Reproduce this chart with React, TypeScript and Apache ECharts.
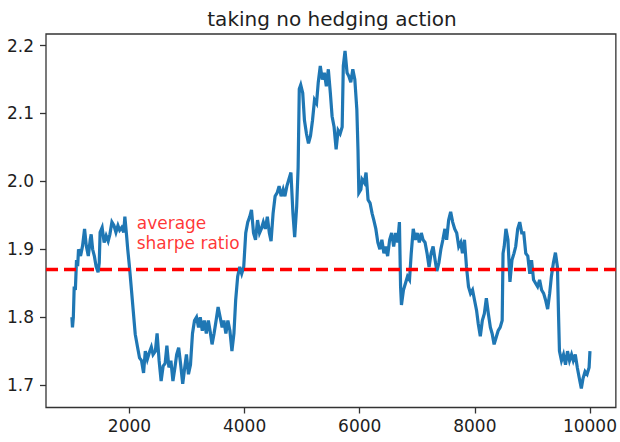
import React, { useEffect, useRef } from "react";
import * as echarts from "echarts";

const TITLE = "taking no hedging action";
const ANNOTATION = "average\nsharpe ratio";
const AVERAGE_SHARPE = 1.871;
const ANNOT_X = 2100;
const ANNOT_Y = 1.9;
const X_TICKS = [2000, 4000, 6000, 8000, 10000];
const Y_TICKS = [1.7, 1.8, 1.9, 2.0, 2.1, 2.2];

const steps = [
  1000, 1010, 1025, 1040, 1060, 1080, 1100, 1115, 1150, 1185, 1220, 1250, 1285, 1320, 1335, 1360, 1390, 1420, 1455, 1475,
  1490, 1525, 1560, 1595, 1630, 1660, 1695, 1730, 1765, 1800, 1830, 1865, 1900, 1920, 1950, 1970, 2000, 2035, 2070, 2100,
  2140, 2175, 2210, 2245, 2275, 2310, 2345, 2380, 2410, 2450, 2480, 2515, 2550, 2585, 2620, 2650, 2685, 2720, 2755, 2790,
  2820, 2855, 2890, 2925, 2960, 2990, 3025, 3060, 3095, 3130, 3165, 3200, 3230, 3265, 3300, 3335, 3370, 3400, 3435, 3470,
  3505, 3540, 3575, 3610, 3640, 3675, 3710, 3745, 3780, 3815, 3845, 3880, 3915, 3950, 3985, 4020, 4055, 4090, 4120, 4155,
  4190, 4225, 4260, 4290, 4325, 4360, 4395, 4430, 4460, 4495, 4530, 4565, 4600, 4635, 4670, 4700, 4735, 4770, 4805, 4840,
  4870, 4905, 4930, 4950, 4975, 5010, 5040, 5075, 5110, 5145, 5180, 5215, 5250, 5280, 5315, 5350, 5385, 5420, 5455, 5490,
  5520, 5555, 5590, 5625, 5660, 5695, 5715, 5745, 5780, 5810, 5845, 5880, 5915, 5950, 5970, 5985, 6020, 6040, 6080, 6110,
  6145, 6180, 6215, 6245, 6280, 6315, 6350, 6385, 6420, 6450, 6485, 6520, 6555, 6590, 6625, 6660, 6690, 6710, 6725, 6760,
  6795, 6830, 6865, 6895, 6930, 6965, 7000, 7035, 7070, 7100, 7135, 7170, 7205, 7240, 7275, 7310, 7340, 7375, 7410, 7445,
  7480, 7510, 7545, 7580, 7615, 7650, 7685, 7720, 7755, 7785, 7820, 7855, 7890, 7925, 7960, 7995, 8030, 8060, 8095, 8130,
  8165, 8200, 8235, 8270, 8300, 8335, 8370, 8405, 8440, 8475, 8490, 8510, 8540, 8575, 8610, 8645, 8680, 8710, 8745, 8780,
  8815, 8850, 8885, 8920, 8955, 8985, 9020, 9055, 9090, 9125, 9160, 9195, 9230, 9265, 9300, 9330, 9365, 9400, 9435, 9455,
  9470, 9505, 9540, 9575, 9610, 9645, 9680, 9710, 9745, 9780, 9815, 9850, 9880, 9915, 9950, 9985, 10000,
];

const sharpeRatio = [
  1.8, 1.785, 1.8, 1.845, 1.84, 1.884, 1.875, 1.9, 1.89, 1.905, 1.93, 1.905, 1.89, 1.915, 1.922, 1.9, 1.89, 1.875, 1.866, 1.88,
  1.925, 1.932, 1.91, 1.92, 1.912, 1.922, 1.94, 1.935, 1.925, 1.935, 1.928, 1.932, 1.925, 1.948, 1.92, 1.9, 1.874, 1.84, 1.805, 1.775,
  1.756, 1.74, 1.736, 1.718, 1.75, 1.738, 1.748, 1.756, 1.745, 1.75, 1.776, 1.736, 1.706, 1.728, 1.732, 1.758, 1.726, 1.736, 1.706, 1.726,
  1.745, 1.755, 1.73, 1.702, 1.726, 1.745, 1.716, 1.73, 1.776, 1.795, 1.8, 1.785, 1.8, 1.78, 1.795, 1.776, 1.795, 1.78, 1.76, 1.776,
  1.795, 1.815, 1.8, 1.785, 1.795, 1.776, 1.795, 1.78, 1.75, 1.776, 1.825, 1.86, 1.874, 1.864, 1.874, 1.924, 1.94, 1.948, 1.958, 1.924,
  1.914, 1.943, 1.924, 1.93, 1.94, 1.93, 1.948, 1.924, 1.912, 1.953, 1.978, 1.983, 1.993, 1.978, 1.988, 1.978, 1.993, 2.003, 2.013, 1.953,
  1.918, 1.963, 2.02, 2.136, 2.142, 2.13, 2.09, 2.07, 2.056, 2.067, 2.09, 2.12, 2.115, 2.146, 2.17, 2.15, 2.16, 2.14, 2.165, 2.13,
  2.096, 2.08, 2.047, 2.075, 2.07, 2.08, 2.17, 2.192, 2.16, 2.155, 2.146, 2.165, 2.15, 2.106, 2.047, 1.983, 1.988, 2.003, 1.998, 2.013,
  1.973, 1.968, 1.953, 1.943, 1.93, 1.91, 1.9, 1.914, 1.894, 1.904, 1.89, 1.914, 1.924, 1.904, 1.924, 1.91, 1.94, 1.845, 1.818, 1.84,
  1.85, 1.86, 1.855, 1.894, 1.93, 1.914, 1.924, 1.91, 1.924, 1.914, 1.91, 1.894, 1.874, 1.894, 1.904, 1.884, 1.868, 1.88, 1.9, 1.914,
  1.93, 1.914, 1.943, 1.955, 1.94, 1.93, 1.924, 1.904, 1.91, 1.894, 1.914, 1.874, 1.845, 1.835, 1.84, 1.825, 1.81, 1.79, 1.772, 1.795,
  1.805, 1.828, 1.805, 1.785, 1.776, 1.76, 1.77, 1.78, 1.785, 1.795, 1.894, 1.904, 1.93, 1.914, 1.852, 1.884, 1.894, 1.904, 1.93, 1.94,
  1.924, 1.924, 1.894, 1.89, 1.864, 1.884, 1.855, 1.85, 1.845, 1.855, 1.84, 1.835, 1.825, 1.812, 1.835, 1.86, 1.88, 1.895, 1.874, 1.8,
  1.75, 1.736, 1.745, 1.73, 1.75, 1.736, 1.745, 1.736, 1.745, 1.726, 1.71, 1.695, 1.71, 1.72, 1.716, 1.726, 1.75,
];

const FONT = "DejaVu Sans";
const INK = "#1e1e1e";

export default function App() {
  const ref = useRef<HTMLDivElement>(null);

  useEffect(() => {
    if (!ref.current) return;
    const chart = echarts.init(ref.current, null, { renderer: "svg" });
    const data = steps.map((s, i) => [s, sharpeRatio[i]]);

    chart.setOption({
      animation: false,
      backgroundColor: "#ffffff",
      textStyle: { fontFamily: FONT },
      graphic: [
        {
          type: "text",
          x: 332,
          y: 19,
          style: {
            text: TITLE,
            fontFamily: FONT,
            fontSize: 20,
            fill: INK,
            align: "center",
            verticalAlign: "middle",
          },
        },
      ],
      grid: {
        left: 46,
        top: 34,
        width: 573,
        height: 373.5,
        show: true,
        borderColor: "#333",
        borderWidth: 1.3,
        backgroundColor: "transparent",
      },
      xAxis: {
        type: "value",
        min: 550,
        max: 10450,
        splitLine: { show: false },
        axisLine: { show: false },
        axisTick: {
          show: true,
          length: 6,
          lineStyle: { color: "#333", width: 1.3 },
          customValues: X_TICKS,
        },
        axisLabel: {
          show: true,
          margin: 10,
          fontFamily: FONT,
          fontSize: 17,
          color: INK,
          customValues: X_TICKS,
          formatter: (v: number) => String(v),
        },
      },
      yAxis: {
        type: "value",
        min: 1.667,
        max: 2.217,
        splitLine: { show: false },
        axisLine: { show: false },
        axisTick: {
          show: true,
          length: 6,
          lineStyle: { color: "#333", width: 1.3 },
          customValues: Y_TICKS,
        },
        axisLabel: {
          show: true,
          margin: 12,
          fontFamily: FONT,
          fontSize: 17,
          color: INK,
          customValues: Y_TICKS,
          formatter: (v: number) => v.toFixed(1),
        },
      },
      series: [
        {
          type: "line",
          data,
          showSymbol: false,
          symbol: "none",
          lineStyle: { color: "#1f77b4", width: 3.2, join: "miter" },
          z: 2,
          markLine: {
            silent: true,
            symbol: "none",
            label: { show: false },
            lineStyle: { color: "#ff0000", width: 3.4, type: [12, 6], opacity: 1 },
            data: [{ yAxis: AVERAGE_SHARPE }],
            z: 5,
          },
        },
        {
          type: "scatter",
          data: [[ANNOT_X, ANNOT_Y]],
          symbolSize: 1,
          itemStyle: { color: "transparent" },
          silent: true,
          label: {
            show: true,
            position: [0, 0],
            offset: [2, 4],
            align: "left",
            verticalAlign: "bottom",
            formatter: () => ANNOTATION,
            fontFamily: FONT,
            fontSize: 17,
            lineHeight: 20,
            color: "#ff0000",
          },
          z: 6,
        },
      ],
    });

    return () => chart.dispose();
  }, []);

  return (
    <div
      ref={ref}
      style={{ position: "absolute", left: 0, top: 0, width: 620, height: 442 }}
    />
  );
}
